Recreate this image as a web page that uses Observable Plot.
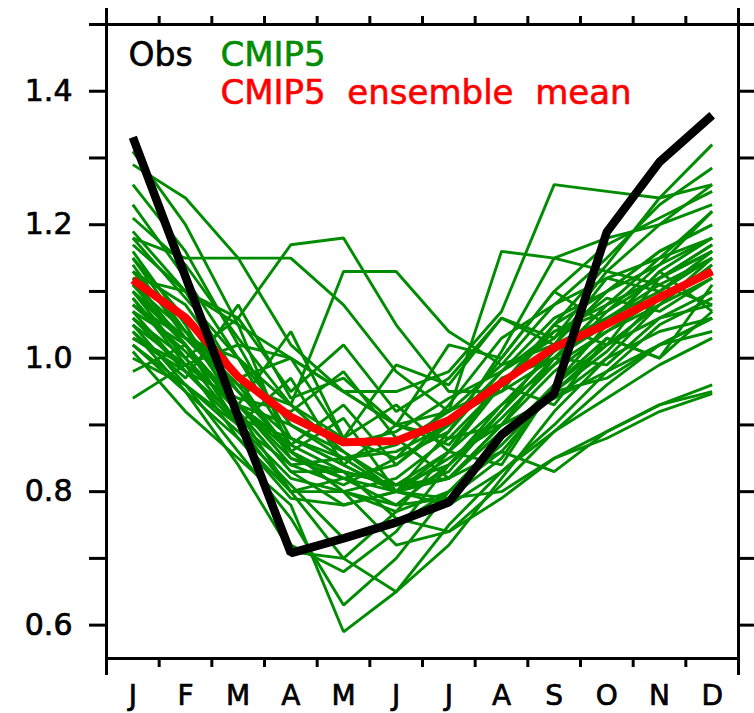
<!DOCTYPE html>
<html>
<head>
<meta charset="utf-8">
<script src="https://cdn.jsdelivr.net/npm/d3@7"></script>
<script src="https://cdn.jsdelivr.net/npm/@observablehq/plot@0.6"></script>
<style>
  body { margin: 0; background: #fff; }
  svg text { white-space: pre; }
</style>
</head>
<body>
<div id="chart"></div>
<script>
const months = ["J","F","M","A","M","J","J","A","S","O","N","D"];
const obs = [1.331, 1.122, 0.912, 0.708, 0.730, 0.754, 0.784, 0.885, 0.947, 1.189, 1.294, 1.364];
const ensembleMean = [1.117, 1.061, 0.972, 0.912, 0.874, 0.876, 0.907, 0.963, 1.016, 1.051, 1.091, 1.130];
const cmip5 = [
  [1.31,1.20,1.05,0.86,0.80,0.82,0.88,0.96,1.05,1.14,1.24,1.32],
  [1.29,1.24,1.15,1.02,0.95,0.90,0.92,0.99,1.08,1.15,1.23,1.285],
  [1.26,1.16,1.02,0.88,0.84,0.80,0.82,0.90,1.00,1.08,1.15,1.22],
  [1.23,1.12,1.00,0.90,0.85,0.86,0.90,1.00,1.10,1.17,1.21,1.25],
  [1.21,1.14,1.03,0.93,0.86,0.80,0.83,0.92,1.02,1.10,1.16,1.20],
  [1.19,1.10,0.97,0.85,0.82,0.78,0.79,0.85,0.96,1.05,1.13,1.18],
  [1.18,1.15,1.15,1.15,1.08,0.98,0.92,0.96,1.04,1.08,1.12,1.17],
  [1.17,1.10,1.06,1.17,1.18,1.05,0.95,0.95,1.00,1.05,1.09,1.13],
  [1.16,1.05,0.92,0.80,0.70,0.65,0.72,0.82,0.92,1.00,1.08,1.15],
  [1.15,1.06,0.95,0.86,0.82,0.84,0.90,0.98,1.06,1.10,1.16,1.20],
  [1.14,1.03,1.00,0.87,0.93,0.84,0.91,0.95,1.05,1.02,1.12,1.16],
  [1.13,1.04,0.96,0.93,1.13,1.13,1.04,0.99,1.02,1.06,1.10,1.15],
  [1.12,1.10,1.05,1.00,0.95,0.95,0.98,1.07,1.26,1.25,1.24,1.26],
  [1.11,1.02,0.92,0.83,0.83,0.81,0.86,0.96,1.05,1.10,1.14,1.18],
  [1.10,1.00,0.90,0.80,0.80,0.78,0.84,0.92,1.00,1.08,1.12,1.16],
  [1.09,1.00,1.06,0.95,1.02,0.92,0.97,1.06,1.03,1.09,1.07,1.12],
  [1.09,0.99,0.88,0.79,0.78,0.80,0.82,0.90,0.98,1.04,1.09,1.13],
  [1.08,1.03,0.96,0.86,0.91,0.80,0.86,0.84,0.96,1.03,1.00,1.11],
  [1.07,1.02,0.93,1.04,0.88,0.93,0.86,0.97,1.00,0.99,1.06,1.08],
  [1.06,0.98,0.90,0.84,0.81,0.85,0.93,1.03,1.08,1.12,1.15,1.18],
  [1.05,0.96,0.86,0.76,0.63,0.70,0.80,0.88,0.96,1.02,1.06,1.10],
  [1.04,0.97,1.08,0.94,0.97,0.90,1.02,1.00,1.10,1.05,1.13,1.07],
  [1.03,0.98,0.94,0.92,0.98,0.88,0.82,0.89,0.95,0.97,1.02,1.06],
  [1.02,0.95,0.88,0.80,0.82,0.80,0.85,0.90,0.94,0.98,1.02,1.04],
  [1.01,0.92,0.85,0.78,0.59,0.65,0.75,0.83,0.90,0.98,1.05,1.09],
  [1.10,1.03,0.95,0.88,0.84,0.80,0.79,0.80,0.85,0.89,0.93,0.95],
  [0.98,1.02,0.90,0.97,0.84,0.90,0.87,0.96,0.93,1.03,1.00,1.07],
  [0.94,0.99,1.02,1.00,0.95,0.90,0.88,0.90,0.94,1.00,1.04,1.06],
  [1.12,1.02,0.93,0.86,0.80,0.77,0.80,0.87,0.95,1.02,1.08,1.14],
  [1.06,1.00,0.92,0.83,0.78,0.80,0.89,0.98,1.04,1.07,1.12,1.17],
  [1.15,1.04,0.93,0.84,0.85,0.80,0.78,0.83,0.89,0.96,1.02,1.06],
  [1.03,0.99,0.93,0.85,0.83,0.76,0.74,0.81,0.89,0.94,0.99,1.03],
  [1.08,1.01,0.93,0.87,0.83,0.81,0.84,0.91,0.99,1.07,1.14,1.22],
  [1.13,1.08,0.97,1.00,0.88,0.99,0.96,1.06,1.02,1.12,1.10,1.16],
  [1.05,0.99,0.93,0.90,0.86,0.81,0.82,0.86,0.83,0.89,0.93,0.96],
  [1.00,0.96,0.90,0.82,0.80,0.72,0.74,0.79,0.85,0.88,0.92,0.947],
  [1.18,1.09,1.00,0.93,0.88,0.85,0.89,1.01,1.15,1.18,1.20,1.23],
  [1.07,0.98,0.91,0.88,0.85,0.87,0.92,1.16,1.15,1.13,1.11,1.08],
  [1.11,1.04,0.97,0.91,0.87,0.89,0.94,0.98,1.03,1.13,1.20,1.26],
  [1.02,0.96,0.89,0.81,0.73,0.75,0.80,0.86,0.95,1.01,1.09,1.13],
  [1.04,0.95,0.84,0.71,0.70,0.77,0.86,0.93,0.99,1.04,1.08,1.12],
  [1.10,1.02,0.90,0.72,0.68,0.74,0.84,0.93,1.01,1.06,1.11,1.15]
];
const yTickValues = [0.6,0.7,0.8,0.9,1.0,1.1,1.2,1.3,1.4,1.5];
const yLabelValues = [0.6,0.8,1.0,1.2,1.4];
const xInnerTicks = [1.5,2.5,3.5,4.5,5.5,6.5,7.5,8.5,9.5,10.5,11.5];
const xEndTicks = [0.5,12.5];
const monthPositions = [1,2,3,4,5,6,7,8,9,10,11,12];
const legendObs = "Obs";
const legendModels = "CMIP5";
const legendMean = "CMIP5  ensemble  mean";

const modelRows = cmip5.flatMap((vals, m) => vals.map((v, i) => ({model: m, month: i + 1, value: v})));
const obsRows = obs.map((v, i) => ({month: i + 1, value: v}));
const meanRows = ensembleMean.map((v, i) => ({month: i + 1, value: v}));

const green = "#008c00";
const lineOpts = {x: "month", y: "value", strokeLinejoin: "miter", strokeLinecap: "butt"};
const tickStyle = {strokeWidth: 3, label: null, fill: "none"};
const labelStyle = {label: null, tickSize: 0, textStroke: "black", textStrokeWidth: 0.7};

const chart = Plot.plot({
  width: 754,
  height: 713,
  marginLeft: 106,
  marginRight: 16,
  marginTop: 24,
  marginBottom: 55,
  x: {domain: [0.5, 12.5], axis: null},
  y: {domain: [0.55, 1.5], axis: null},
  style: {fontFamily: "DejaVu Sans", background: "white", color: "black"},
  marks: [
    Plot.line(modelRows, {...lineOpts, z: "model", stroke: green, strokeWidth: 2.9}),
    Plot.line(meanRows, {...lineOpts, stroke: "#ff0000", strokeWidth: 8}),
    Plot.line(obsRows, {...lineOpts, stroke: "black", strokeWidth: 8.5}),
    Plot.frame({strokeWidth: 3}),
    Plot.axisY({...tickStyle, anchor: "left", ticks: yTickValues, tickSize: 17}),
    Plot.axisY({...tickStyle, anchor: "right", ticks: yTickValues, tickSize: 17}),
    Plot.axisY({...labelStyle, anchor: "left", ticks: yLabelValues, tickPadding: 34, tickFormat: d3.format(".1f"), fontSize: 30}),
    Plot.axisX({...tickStyle, anchor: "bottom", ticks: xInnerTicks, tickSize: 9}),
    Plot.axisX({...tickStyle, anchor: "top", ticks: xInnerTicks, tickSize: 9}),
    Plot.axisX({...tickStyle, anchor: "bottom", ticks: xEndTicks, tickSize: 17}),
    Plot.axisX({...tickStyle, anchor: "top", ticks: xEndTicks, tickSize: 17}),
    Plot.axisX({...labelStyle, anchor: "bottom", ticks: monthPositions, tickPadding: 27, tickFormat: d => months[d - 1], fontSize: 28}),
    Plot.text([legendObs], {text: d => d, frameAnchor: "top-left", dx: 22, dy: 41, lineAnchor: "bottom", textAnchor: "start", fill: "black", stroke: "black", strokeWidth: 0.6, fontSize: 33}),
    Plot.text([legendModels], {text: d => d, frameAnchor: "top-left", dx: 114, dy: 41, lineAnchor: "bottom", textAnchor: "start", fill: green, stroke: green, strokeWidth: 0.6, fontSize: 34}),
    Plot.text([legendMean], {text: d => d, frameAnchor: "top-left", dx: 114, dy: 79, lineAnchor: "bottom", textAnchor: "start", fill: "#ff0000", stroke: "#ff0000", strokeWidth: 0.6, fontSize: 34})
  ]
});
document.getElementById("chart").appendChild(chart);
</script>
</body>
</html>
